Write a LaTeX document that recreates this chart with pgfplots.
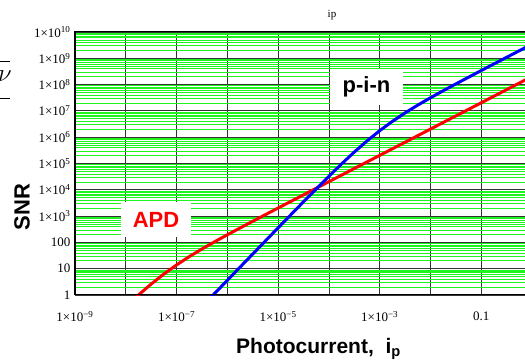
\documentclass[border=0pt]{standalone}
\usepackage{fontspec}
\setmainfont{Liberation Serif}
\newfontfamily\sansb{Liberation Sans}
\usepackage{pgfplots}
\pgfplotsset{compat=1.18}
\definecolor{gridgreen}{RGB}{30,245,30}
\definecolor{pinblue}{RGB}{0,0,255}
\definecolor{apdred}{RGB}{255,0,0}
\begin{document}
\begin{tikzpicture}
\begin{axis}[
  at={(0pt,0pt)}, anchor=south west,
  scale only axis, width=450pt, height=263pt,
  xmode=log, ymode=log,
  xmin=1e-9, xmax=0.7244, ymin=1, ymax=1e10,
  axis line style={draw=none},
  xtick={1e-9,1e-8,1e-7,1e-6,1e-5,1e-4,1e-3,1e-2,1e-1},
  xticklabels={1×10\textsuperscript{−9},,1×10\textsuperscript{−7},,1×10\textsuperscript{−5},,1×10\textsuperscript{−3},,0.1},
  ytick={1,10,100,1e3,1e4,1e5,1e6,1e7,1e8,1e9,1e10},
  yticklabels={1,10,100,1×10\textsuperscript{3},1×10\textsuperscript{4},1×10\textsuperscript{5},1×10\textsuperscript{6},1×10\textsuperscript{7},1×10\textsuperscript{8},1×10\textsuperscript{9},1×10\textsuperscript{10}},
  minor ytick={2,3,4,5,6,7,8,9,
    20,30,40,50,60,70,80,90,
    2e2,3e2,4e2,5e2,6e2,7e2,8e2,9e2,
    2e3,3e3,4e3,5e3,6e3,7e3,8e3,9e3,
    2e4,3e4,4e4,5e4,6e4,7e4,8e4,9e4,
    2e5,3e5,4e5,5e5,6e5,7e5,8e5,9e5,
    2e6,3e6,4e6,5e6,6e6,7e6,8e6,9e6,
    2e7,3e7,4e7,5e7,6e7,7e7,8e7,9e7,
    2e8,3e8,4e8,5e8,6e8,7e8,8e8,9e8,
    2e9,3e9,4e9,5e9,6e9,7e9,8e9,9e9},
  minor xtick={},
  xmajorgrids, ymajorgrids, yminorgrids,
  major grid style={black!80, line width=0.8pt},
  minor grid style={gridgreen, line width=0.7pt},
  major tick length=0pt, minor tick length=0pt,
  tick label style={font=\fontsize{13}{13}\selectfont},
  xticklabel style={yshift=-13pt},
  yticklabel style={xshift=-1pt},
]
\addplot[apdred, line width=3pt] coordinates {
 (1e-8,0.360) (1.778e-8,1.000) (3.162e-8,2.606) (5.623e-8,6.266)
 (1e-7,13.90) (1.778e-7,28.77) (3.162e-7,56.23) (5.623e-7,105.9)
 (1e-6,195.0) (3.162e-6,636.8) (1e-5,2032) (3.162e-5,6442)
 (1e-4,20420) (1e-3,2.042e5) (1e-2,2.042e6) (1e-1,2.042e7) (1,2.042e8)
};
\addplot[pinblue, line width=3pt] coordinates {
 (3.162e-7,0.363) (5.623e-7,1.148) (1e-6,3.627) (3.162e-6,36.19)
 (1e-5,359.3) (3.162e-5,3516) (1e-4,32890) (1.778e-4,96830)
 (3.162e-4,2.729e5) (5.623e-4,7.228e5) (1e-3,1.774e6) (1.778e-3,4.009e6)
 (3.162e-3,8.414e6) (5.623e-3,1.667e7) (1e-2,3.162e7) (1.778e-2,5.848e7)
 (3.162e-2,1.064e8) (1e-1,3.436e8) (0.3162,1.094e9) (1,3.467e9)
};
\end{axis}
% axis frame (left, bottom, top)
\draw[black, line width=1pt] (450pt,263pt) -- (0pt,263pt) -- (0pt,0pt) -- (450pt,0pt);
% labels with white boxes
\node[fill=white, inner sep=0pt, minimum width=73pt, minimum height=36pt,
      font=\sansb\bfseries\fontsize{22}{22}\selectfont] at (291.5pt,208pt) {p-i-n};
\node[fill=white, inner sep=0pt, minimum width=70pt, minimum height=35pt, text=apdred,
      font=\sansb\bfseries\fontsize{22}{22}\selectfont] at (81pt,75.5pt) {APD};
% title
\node[font=\fontsize{11}{11}\selectfont] at (257pt,280pt) {ip};
% y label
\node[rotate=90, font=\sansb\bfseries\fontsize{22}{22}\selectfont] at (-53pt,88pt) {SNR};
% x label
\node[font=\sansb\bfseries\fontsize{21}{21}\selectfont] at (243.5pt,-54pt) {Photocurrent,\ \ i\textsubscript{p}};
% cropped formula fragment at the left edge
\draw[line width=0.8pt] (-85pt,234pt) -- (-65pt,234pt);
\draw[line width=0.8pt] (-85pt,197pt) -- (-65pt,197pt);
\node[font=\fontsize{26}{26}\selectfont, anchor=east, inner sep=0pt] at (-63pt,219pt) {$\nu$};
\pgfresetboundingbox
\useasboundingbox (-75pt,-69pt) rectangle (450pt,295pt);
\end{tikzpicture}
\end{document}
